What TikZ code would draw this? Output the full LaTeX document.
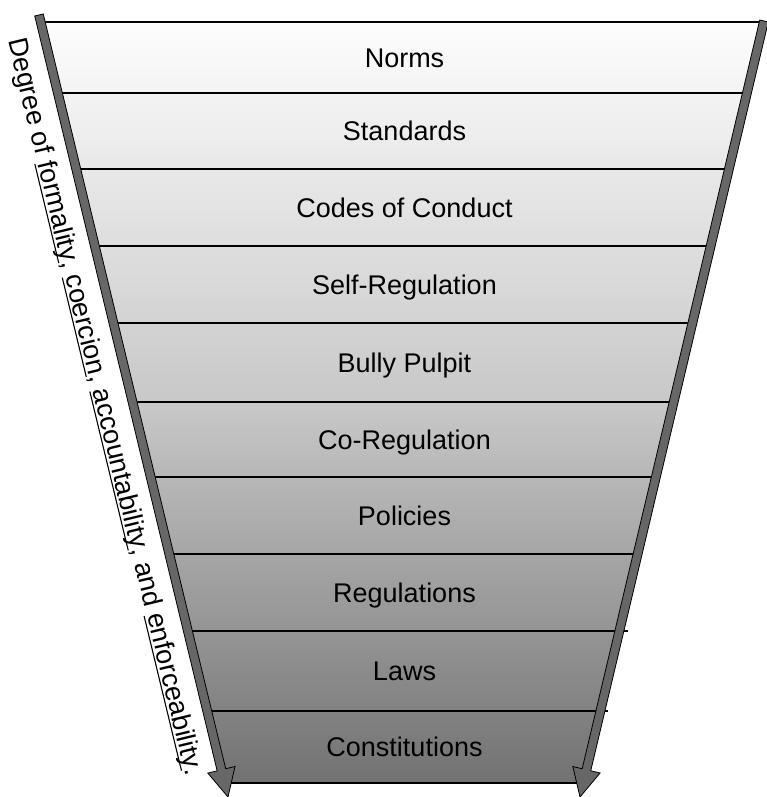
\documentclass[tikz,border=0pt]{standalone}
\usepackage{fontspec}
\setmainfont{Liberation Sans}
\usetikzlibrary{calc}
\definecolor{arrowgray}{HTML}{676767}
\definecolor{shadetop}{HTML}{FDFDFD}
\definecolor{shademid}{HTML}{C8C8C8}
\definecolor{shadebot}{HTML}{727272}
\newcommand\ulword[1]{\setbox0\hbox{#1}\rlap{\rule[-3.6pt]{\wd0}{1.1pt}}\box0}
\newcommand\fatarrow[3]{% #1 start, #2 tip, #3 name prefix
  \coordinate (#3hb) at ($(#2)!28pt!(#1)$);
  \filldraw[arrowbody] ($(#1)!4.4pt!90:(#2)$) -- ($(#3hb)!4.4pt!90:(#2)$)
     -- ($(#3hb)!14pt!90:(#2)$) -- (#2) -- ($(#3hb)!14pt!-90:(#2)$)
     -- ($(#3hb)!4.4pt!-90:(#2)$) -- ($(#1)!4.4pt!-90:(#2)$) -- cycle;
}
\begin{document}
\begin{tikzpicture}[x=1pt,y=-1pt,
  arrowbody/.style={fill=arrowgray,draw=black,line width=0.8pt,line join=miter},
  sepline/.style={draw=black,line width=1.6pt},
  bandlabel/.style={font=\fontsize{27}{30}\selectfont,inner sep=0pt,text height=19.3pt,text depth=0pt,anchor=center},
  sidetext/.style={font=\fontsize{27}{30}\selectfont,inner sep=0pt}]
\useasboundingbox (0,0) rectangle (767,797);
% arrow axes
\coordinate (LS) at (39,15);
\coordinate (LT) at (228,797);
\coordinate (RS) at (764,21);
\coordinate (RT) at (580,797);
% trapezoid fill
\shade[top color=shadetop,bottom color=shadebot,middle color=shademid]
  (40.7,22) -- (763.8,22) -- (583.4,783) -- (224.6,783) -- cycle;
% separator lines
\draw[sepline] (40.7,22) -- (763.8,22);
\draw[sepline] (57.9,93) -- (746.9,93);
\draw[sepline] (76.2,169) -- (728.9,169);
\draw[sepline] (94.8,246) -- (710.7,246);
\draw[sepline] (113.4,323) -- (692.4,323);
\draw[sepline] (132.5,402) -- (673.7,402);
\draw[sepline] (150.7,477) -- (655.9,477);
\draw[sepline] (169.3,554) -- (637.7,554);
\draw[sepline] (187.9,631) -- (628,631);
\draw[sepline] (207.2,711) -- (608,711);
\draw[sepline] (224.6,783) -- (583.4,783);
% arrows
\fatarrow{LS}{LT}{l}
\fatarrow{RS}{RT}{r}
% band labels
\node[bandlabel] (norms) at (404.5,57.5) {Norms};
\node[bandlabel] (standards) at (404.5,131) {Standards};
\node[bandlabel] (codes) at (404.5,207.5) {Codes of Conduct};
\node[bandlabel] (selfreg) at (404.5,284.5) {Self-Regulation};
\node[bandlabel] (bully) at (404.5,362.5) {Bully Pulpit};
\node[bandlabel] (coreg) at (404.5,439.5) {Co-Regulation};
\node[bandlabel] (policies) at (404.5,515.5) {Policies};
\node[bandlabel] (regulations) at (404.5,592.5) {Regulations};
\node[bandlabel] (laws) at (404.5,671) {Laws};
\node[bandlabel] (constitutions) at (404.5,747) {Constitutions};
% side text
\coordinate (LM) at ($(LS)!0.493!(LT)$);
\node[sidetext,rotate=-76.41,anchor=base] (degree) at ($(LM)!36pt!-90:(LT)$)
  {Degree of \ulword{formality}, \ulword{coercion}, \ulword{accountability}, and \ulword{enforceability}.};
\end{tikzpicture}
\end{document}
